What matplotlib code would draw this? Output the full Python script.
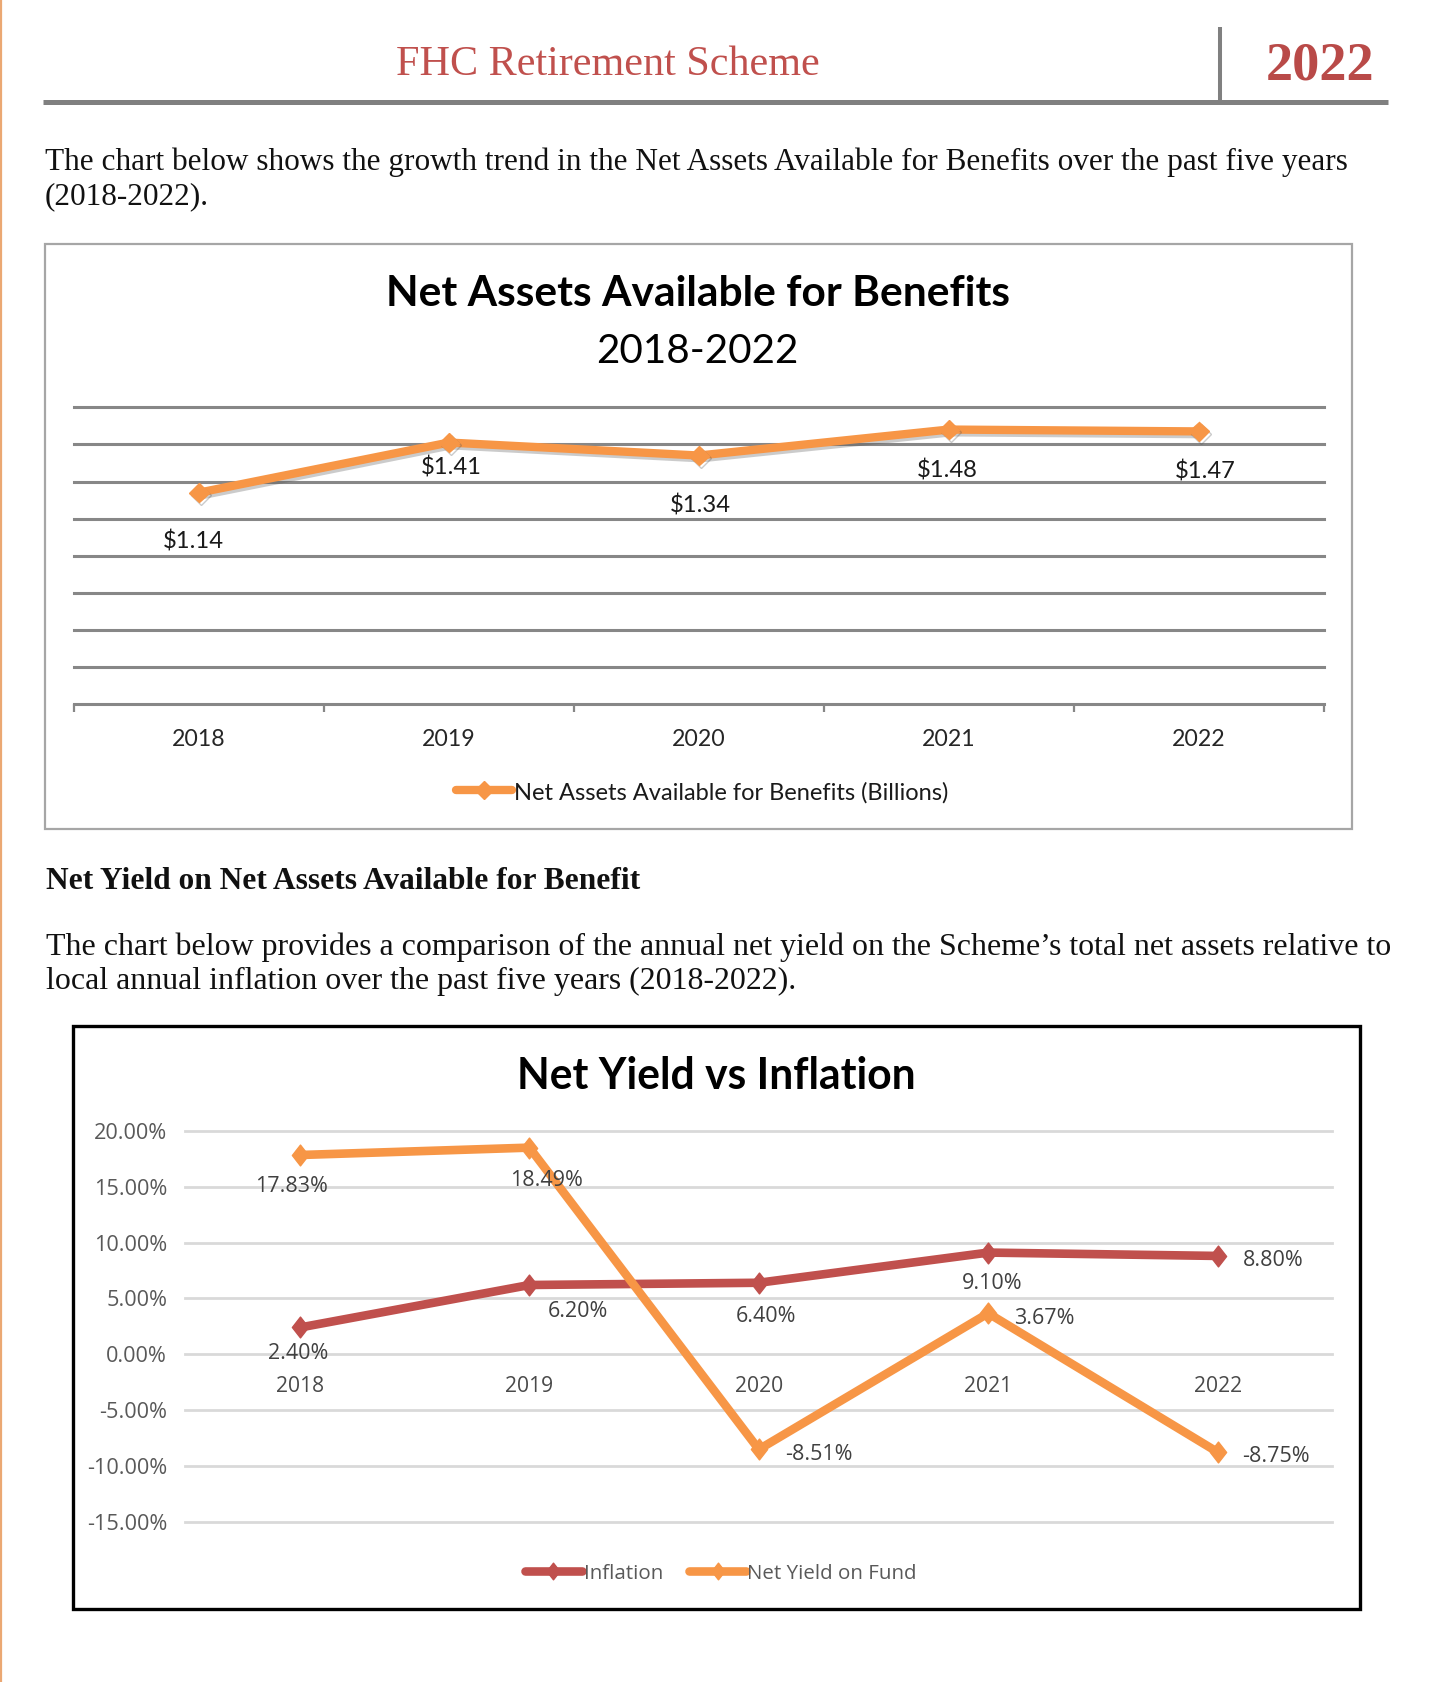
import matplotlib
matplotlib.use('Agg')
import matplotlib.pyplot as plt
from matplotlib.textpath import TextPath
from matplotlib.font_manager import FontProperties
from matplotlib.patches import Rectangle
from matplotlib.path import Path
import matplotlib.patheffects as pe

plt.rcParams['text.parse_math'] = False

# ---------------- data ----------------
years = ['2018', '2019', '2020', '2021', '2022']
net_assets = [1.14, 1.41, 1.34, 1.48, 1.47]
net_assets_labels = ['$1.14', '$1.41', '$1.34', '$1.48', '$1.47']
assets_grid = [0.2, 0.4, 0.6, 0.8, 1.0, 1.2, 1.4, 1.6]
inflation = [2.40, 6.20, 6.40, 9.10, 8.80]
net_yield = [17.83, 18.49, -8.51, 3.67, -8.75]
yield_ticks = [-15, -10, -5, 0, 5, 10, 15, 20]

# ---------------- layout helpers ----------------
W, H = 1436, 1682
S = 1.0718
DW, DH = W / S, H / S
TY = 2.5  # text vertical nudge (display px)

SANS = 'Lato'
SANS2 = 'Open Sans'
SERIF = 'Liberation Serif'

ORANGE = '#F79646'
RED = '#C0504D'


def fsize(text, width, family, weight='normal'):
    fp = FontProperties(family=family, weight=weight, size=100)
    w = TextPath((0, 0), text, prop=fp).get_extents().width
    return 100 * (width * S * 0.72) / w


def rect(x0, y0, x1, y1):
    return [x0 * S / W, 1 - y1 * S / H, (x1 - x0) * S / W, (y1 - y0) * S / H]


def pt(d):
    return d * S * 0.72


fig = plt.figure(figsize=(W / 100, H / 100), dpi=100)
bg = fig.add_axes([0, 0, 1, 1], zorder=0)
bg.set_xlim(0, DW)
bg.set_ylim(DH, 0)
bg.axis('off')


def btext(x, y, s, **kw):
    return bg.text(x, y + TY, s, **kw)


# left page edge line
bg.plot([1.2 / S, 1.2 / S], [0, DH], color='#EBA873', lw=1.6)

# header
bg.plot([40, 1295], [95, 95], color='#808080', lw=3.6, solid_capstyle='butt')
bg.plot([1138, 1138], [25, 95], color='#808080', lw=2.9, solid_capstyle='butt')
btext(567, 58, 'FHC Retirement Scheme', family=SERIF, color=RED, ha='center', va='center',
      fontsize=fsize('FHC Retirement Scheme', 393, SERIF))
btext(1232, 60, '2022', family=SERIF, weight='bold', color='#B94A48', ha='center', va='center',
      fontsize=fsize('2022', 97, SERIF, 'bold'))

# paragraph 1
p1a = 'The chart below shows the growth trend in the Net Assets Available for Benefits over the past five years'
fs_p1 = fsize(p1a, 1213, SERIF)
btext(42, 149, p1a, family=SERIF, fontsize=fs_p1, ha='left', va='center', color='#111111')
btext(42, 181, '(2018-2022).', family=SERIF, fontsize=fs_p1, ha='left', va='center', color='#111111')

# heading + paragraph 2
hd = 'Net Yield on Net Assets Available for Benefit'
btext(43, 820, hd, family=SERIF, weight='bold', fontsize=fsize(hd, 552, SERIF, 'bold'),
      ha='left', va='center', color='#111111')
p2a = 'The chart below provides a comparison of the annual net yield on the Scheme\u2019s total net assets relative to'
fs_p2 = fsize(p2a, 1252, SERIF)
btext(43, 881, p2a, family=SERIF, fontsize=fs_p2, ha='left', va='center', color='#111111')
btext(43, 913, 'local annual inflation over the past five years (2018-2022).', family=SERIF,
      fontsize=fs_p2, ha='left', va='center', color='#111111')

# chart boxes
bg.add_patch(Rectangle((42, 228), 1261 - 42, 773 - 228, fill=False, ec='#A6A6A6', lw=1.6))
bg.add_patch(Rectangle((68, 957), 1269 - 68, 1501 - 957, fill=False, ec='#000000', lw=2.4))

# ---------------- chart 1 ----------------
t1 = 'Net Assets Available for Benefits'
btext(651, 272, t1, family=SANS, weight='bold', fontsize=fsize(t1, 577, SANS, 'bold'),
      ha='center', va='center', color='#000000')
btext(651, 325, '2018-2022', family=SANS, fontsize=fsize('2018-2022', 185, SANS),
      ha='center', va='center', color='#000000')

ax1 = fig.add_axes(rect(69, 380, 1235, 657), zorder=2)
ax1.patch.set_alpha(0)
ax1.set_xlim(-0.5, 4.5)
ax1.set_ylim(0, 1.6)
ax1.set_yticks(assets_grid)
ax1.grid(axis='y', color='#878787', lw=2.2)
for gl in ax1.get_ygridlines():
    gl.set_clip_on(False)
ax1.set_axisbelow(True)
for s in ['top', 'left', 'right']:
    ax1.spines[s].set_visible(False)
ax1.spines['bottom'].set_color('#878787')
ax1.spines['bottom'].set_linewidth(2.2)
ax1.tick_params(left=False, labelleft=False)
ax1.set_xticks([-0.5, 0.5, 1.5, 2.5, 3.5, 4.5])
ax1.tick_params(axis='x', length=6, width=1.6, color='#878787', labelbottom=False)

fs_lab1 = fsize('$1.14', 55, SANS)
for i, y in enumerate(years):
    ax1.annotate(y, (i, 0), xytext=(0, -pt(30 + TY)), textcoords='offset points', ha='center', va='center',
                 family=SANS, fontsize=fsize('2018', 48, SANS), color='#262626', annotation_clip=False)

shadow = [pe.SimpleLineShadow(offset=(1.5, -2), shadow_color='#555555', alpha=0.3), pe.Normal()]
ax1.plot(range(5), net_assets, color=ORANGE, lw=6, marker='D', ms=10, solid_joinstyle='round',
         solid_capstyle='round', clip_on=False, zorder=3, path_effects=shadow)

lab1_off = [(-5, 43), (2, 21), (1, 44), (-1, 36), (6, 35)]
for i, (v, lab) in enumerate(zip(net_assets, net_assets_labels)):
    dx, dy = lab1_off[i]
    ax1.annotate(lab, (i, v), xytext=(pt(dx), -pt(dy + TY)), textcoords='offset points', ha='center',
                 va='center', family=SANS, fontsize=fs_lab1, color='#1A1A1A', annotation_clip=False)

# legend chart 1
bg.plot([425, 478], [737, 737], color=ORANGE, lw=6, solid_capstyle='round')
bg.plot([452], [737], color=ORANGE, marker='D', ms=9)
lg1 = 'Net Assets Available for Benefits (Billions)'
btext(480, 737, lg1, family=SANS, fontsize=fsize(lg1, 402, SANS), ha='left', va='center', color='#1A1A1A')

# ---------------- chart 2 ----------------
t2 = 'Net Yield vs Inflation'
btext(668, 1001, t2, family=SANS, weight='bold', fontsize=fsize(t2, 367, SANS, 'bold'),
      ha='center', va='center', color='#000000')

ax2 = fig.add_axes(rect(173, 1055, 1243, 1420), zorder=2)
ax2.patch.set_alpha(0)
ax2.set_xlim(-0.5, 4.5)
ax2.set_ylim(-15, 20)
ax2.set_yticks(yield_ticks)
ax2.set_yticklabels(['%.2f%%' % t for t in yield_ticks])
ax2.grid(axis='y', color='#D9D9D9', lw=2.0)
for gl in ax2.get_ygridlines():
    gl.set_clip_on(False)
ax2.set_axisbelow(True)
for s in ax2.spines.values():
    s.set_visible(False)
ax2.set_xticks([])
ax2.tick_params(axis='y', length=0, pad=pt(17), labelsize=fsize('20.00%', 66, SANS2), labelcolor='#595959')
for lab in ax2.get_yticklabels():
    lab.set_family(SANS2)

fs_yr2 = fsize('2018', 43, SANS2)
for i, y in enumerate(years):
    ax2.annotate(y, (i, 0), xytext=(0, -pt(28 + TY)), textcoords='offset points', ha='center', va='center',
                 family=SANS2, fontsize=fs_yr2, color='#4A4A4A', annotation_clip=False)

diamond = Path([(0, 1), (0.78, 0), (0, -1), (-0.78, 0), (0, 1)],
               [Path.MOVETO, Path.LINETO, Path.LINETO, Path.LINETO, Path.CLOSEPOLY])

ax2.plot(range(5), inflation, color=RED, lw=6.2, marker=diamond, ms=15, solid_joinstyle='round',
         clip_on=False, zorder=3)
ax2.plot(range(5), net_yield, color=ORANGE, lw=6.2, marker=diamond, ms=15, solid_joinstyle='round',
         clip_on=False, zorder=4)

fs_lab2 = fsize('17.83%', 65, SANS2)
infl_off = [(-2, 22), (45, 22), (7, 29), (4, 26), (52, 2)]
yld_off = [(-8, 27), (16, 28), (56, 2), (52, 2), (54, 2)]
for i, v in enumerate(inflation):
    dx, dy = infl_off[i]
    ax2.annotate('%.2f%%' % v, (i, v), xytext=(pt(dx), -pt(dy + TY)), textcoords='offset points',
                 ha='center', va='center', family=SANS2, fontsize=fs_lab2, color='#404040',
                 annotation_clip=False, zorder=5)
for i, v in enumerate(net_yield):
    dx, dy = yld_off[i]
    ax2.annotate('%.2f%%' % v, (i, v), xytext=(pt(dx), -pt(dy + TY)), textcoords='offset points',
                 ha='center', va='center', family=SANS2, fontsize=fs_lab2, color='#404040',
                 annotation_clip=False, zorder=5)

# legend chart 2
fs_lg2 = fsize('Net Yield on Fund', 154, SANS2)
bg.plot([490, 543], [1466, 1466], color=RED, lw=6.2, solid_capstyle='round')
bg.plot([516], [1466], color=RED, marker=diamond, ms=12)
btext(545, 1466, 'Inflation', family=SANS2, fontsize=fs_lg2, ha='left', va='center', color='#595959')
bg.plot([643, 696], [1466, 1466], color=ORANGE, lw=6.2, solid_capstyle='round')
bg.plot([670], [1466], color=ORANGE, marker=diamond, ms=12)
btext(697, 1466, 'Net Yield on Fund', family=SANS2, fontsize=fs_lg2, ha='left', va='center', color='#595959')

fig.savefig('out.png', dpi=100, facecolor='white')
